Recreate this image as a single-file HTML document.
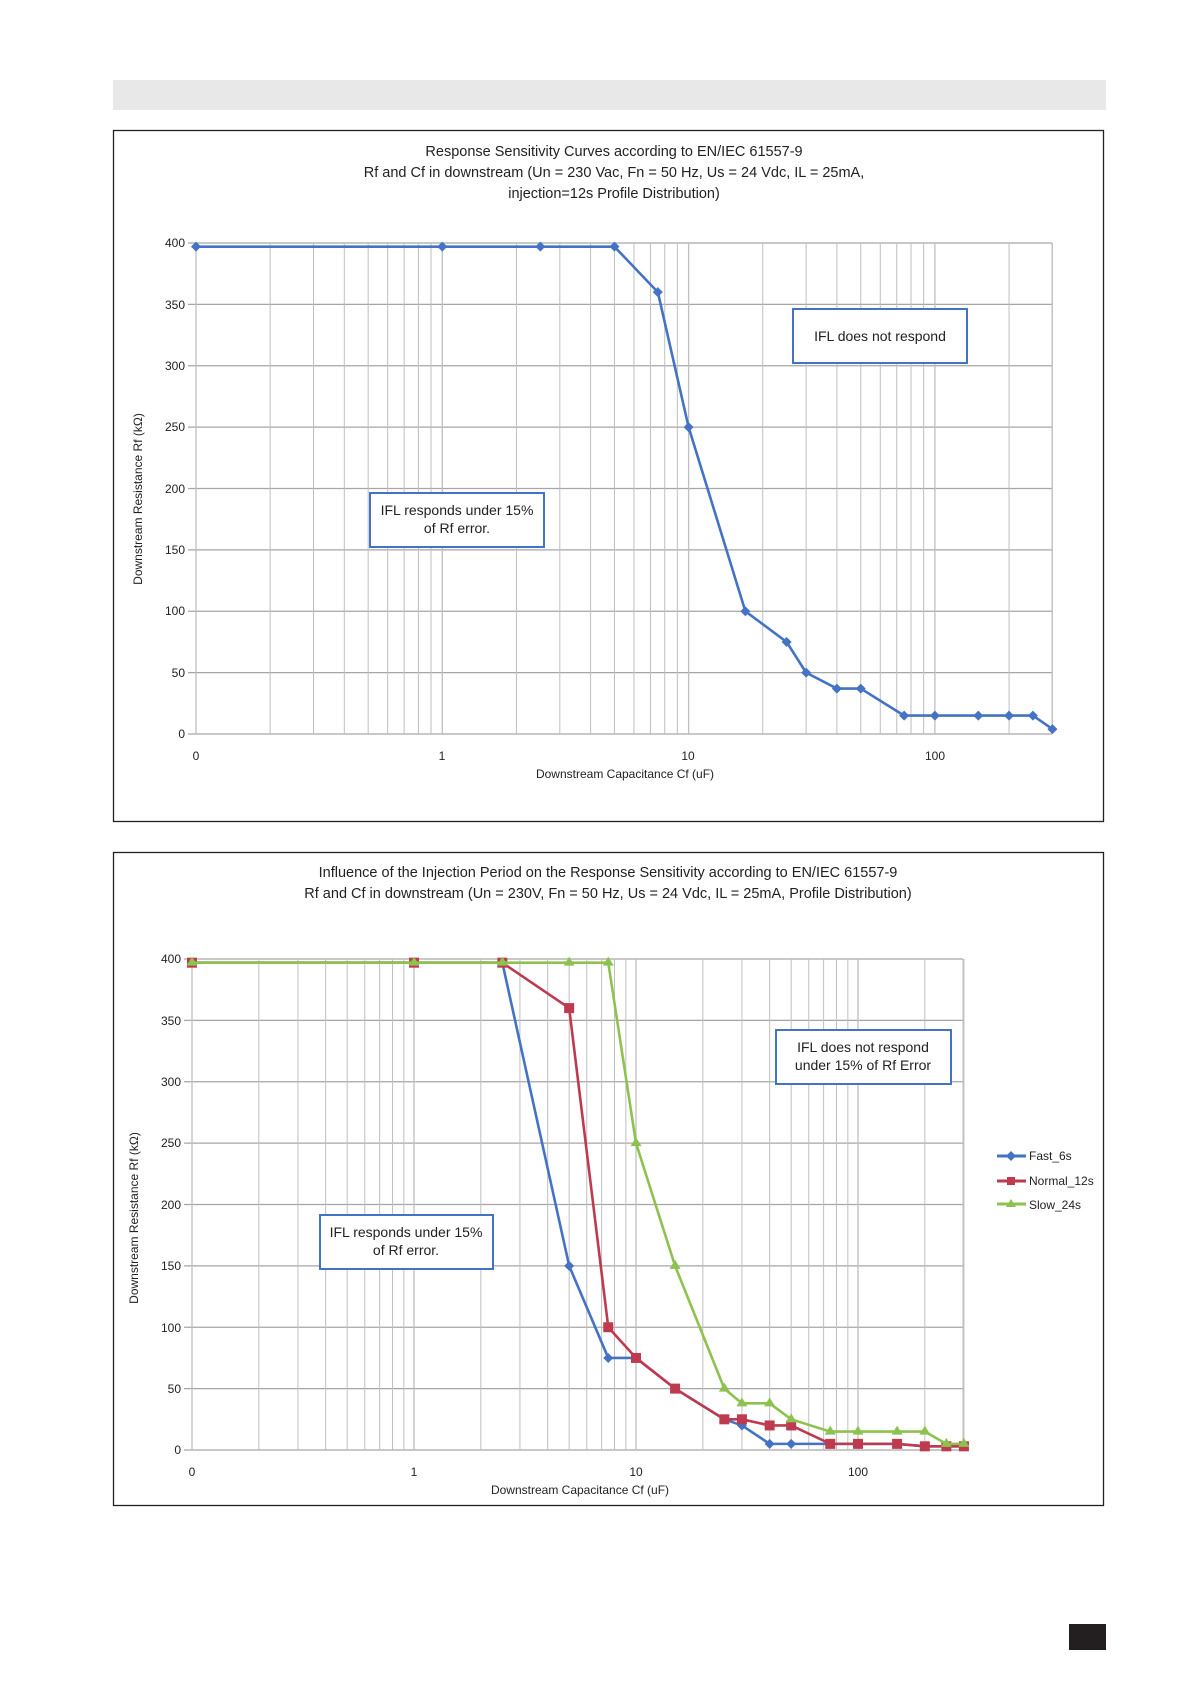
<!DOCTYPE html>
<html><head><meta charset="utf-8"><style>
body{margin:0;background:#fff;}
svg{display:block;font-family:"Liberation Sans",sans-serif;}
</style></head><body>
<svg id="s" width="1191" height="1684" xmlns="http://www.w3.org/2000/svg">
<rect x="113" y="80" width="993" height="30" fill="#e8e8e8"/>
<rect x="113.5" y="130.5" width="990" height="691" fill="none" stroke="#222" stroke-width="1.3"/>
<rect x="113.5" y="852.5" width="990" height="653" fill="none" stroke="#222" stroke-width="1.3"/>
<rect x="1069" y="1624" width="37" height="26" fill="#231f20"/>
<g id="g1"></g><g id="g2"></g>
<g font-size="14.5" fill="#222" text-anchor="middle">
<text x="614" y="156">Response Sensitivity Curves according to EN/IEC 61557-9</text>
<text x="614" y="177">Rf and Cf  in downstream (Un = 230 Vac, Fn = 50 Hz, Us = 24 Vdc, IL = 25mA,</text>
<text x="614" y="198">injection=12s  Profile Distribution)</text>
<text x="608" y="877">Influence of the Injection Period on the Response Sensitivity according to EN/IEC 61557-9</text>
<text x="608" y="898">Rf and Cf  in downstream (Un = 230V, Fn = 50 Hz, Us = 24 Vdc, IL = 25mA,  Profile Distribution)</text>
</g>
<g font-size="12" fill="#222">
<g text-anchor="end">
<text x="185" y="247">400</text><text x="185" y="309">350</text><text x="185" y="370">300</text><text x="185" y="431">250</text><text x="185" y="493">200</text><text x="185" y="554">150</text><text x="185" y="615">100</text><text x="185" y="677">50</text><text x="185" y="738">0</text>
<text x="181" y="963">400</text><text x="181" y="1025">350</text><text x="181" y="1086">300</text><text x="181" y="1147">250</text><text x="181" y="1209">200</text><text x="181" y="1270">150</text><text x="181" y="1332">100</text><text x="181" y="1393">50</text><text x="181" y="1454">0</text>
</g>
<g text-anchor="middle">
<text x="196" y="760">0</text><text x="442" y="760">1</text><text x="688" y="760">10</text><text x="935" y="760">100</text>
<text x="192" y="1476">0</text><text x="414" y="1476">1</text><text x="636" y="1476">10</text><text x="858" y="1476">100</text>
<text x="625" y="778">Downstream Capacitance Cf (uF)</text>
<text x="580" y="1494">Downstream Capacitance Cf (uF)</text>
<text transform="translate(142,499) rotate(-90)">Downstream Resistance Rf (kΩ)</text>
<text transform="translate(138,1218) rotate(-90)">Downstream Resistance Rf (kΩ)</text>
</g>
<text x="1029" y="1160">Fast_6s</text><text x="1029" y="1185">Normal_12s</text><text x="1029" y="1209">Slow_24s</text>
</g>
<g fill="#fff" stroke="#4472c4" stroke-width="2">
<rect x="793" y="309" width="174" height="54"/><rect x="370" y="493" width="174" height="54"/>
<rect x="776" y="1030" width="175" height="54"/><rect x="320" y="1215" width="173" height="54"/>
</g>
<g font-size="14" fill="#222" text-anchor="middle">
<text x="880" y="341">IFL does not respond</text>
<text x="457" y="515">IFL responds under 15%</text><text x="457" y="533">of Rf error.</text>
<text x="863" y="1052">IFL does not respond</text><text x="863" y="1070">under 15% of Rf Error</text>
<text x="406" y="1237">IFL responds under 15%</text><text x="406" y="1255">of Rf error.</text>
</g>
<g stroke-width="3">
<line x1="997" y1="1156" x2="1026" y2="1156" stroke="#4472c4"/><path d="M1011 1151l5 5-5 5-5-5z" fill="#4472c4"/>
<line x1="997" y1="1181" x2="1026" y2="1181" stroke="#be3a4e"/><rect x="1007" y="1177" width="8" height="8" fill="#be3a4e"/>
<line x1="997" y1="1204" x2="1026" y2="1204" stroke="#8dc24f"/><path d="M1011 1199l5 8h-10z" fill="#8dc24f"/>
</g>
</svg>
<script>
var NS="http://www.w3.org/2000/svg";
function el(g,t,a){var e=document.createElementNS(NS,t);for(var k in a)e.setAttribute(k,a[k]);g.appendChild(e);return e;}
function chart(gid,L,dec,R,Y0,series){
 var g=document.getElementById(gid);
 var X=function(v){return L+dec*(Math.log10(v)+1);},Y=function(r){return Y0-r*1.2275;};
 for(var r=0;r<=400;r+=50)el(g,"line",{x1:L-8,x2:R,y1:Y(r),y2:Y(r),stroke:"#a6a6a6","stroke-width":1.3});
 for(var d=0.1;d<=100;d*=10)for(var m=1;m<=9;m++){var v=d*m;var x=X(v);if(x>R+1)continue;el(g,"line",{x1:x,x2:x,y1:Y(400),y2:Y(0),stroke:"#bfbfbf","stroke-width":m==1?1.3:1});}
 el(g,"line",{x1:R,x2:R,y1:Y(400),y2:Y(0),stroke:"#bfbfbf"});
 series.forEach(function(s){
  var pts=s.d.map(function(p){return [X(p[0]),Y(p[1])];});
  el(g,"polyline",{points:pts.map(function(p){return p.join(",");}).join(" "),fill:"none",stroke:s.c,"stroke-width":2.6,"stroke-linejoin":"round"});
  pts.forEach(function(p){var x=p[0],y=p[1];
   if(s.m=="d")el(g,"path",{d:"M"+x+" "+(y-5)+"l5 5-5 5-5-5z",fill:s.c});
   else if(s.m=="s")el(g,"rect",{x:x-5,y:y-5,width:10,height:10,fill:s.c});
   else el(g,"path",{d:"M"+x+" "+(y-6)+"l5.5 9h-11z",fill:s.c});});
 });
}
var xs=[0.1,1,2.5,5,7.5,10,15,25,30,40,50,75,100,150,200,250,300];
function mk(rs){return xs.map(function(x,i){return [x,rs[i]];});}
chart("g1",196,246.3,1052,734,[{c:"#4472c4",m:"d",d:[[0.1,397],[1,397],[2.5,397],[5,397],[7.5,360],[10,250],[17,100],[25,75],[30,50],[40,37],[50,37],[75,15],[100,15],[150,15],[200,15],[250,15],[300,4]]}]);
chart("g2",192,222,963,1450,[
 {c:"#4472c4",m:"d",d:mk([397,397,397,150,75,75,50,25,20,5,5,5,5,5,3,3,3])},
 {c:"#be3a4e",m:"s",d:mk([397,397,397,360,100,75,50,25,25,20,20,5,5,5,3,3,3])},
 {c:"#8dc24f",m:"t",d:mk([397,397,397,397,397,250,150,50,38,38,25,15,15,15,15,5,5])}]);
</script>
</body></html>
